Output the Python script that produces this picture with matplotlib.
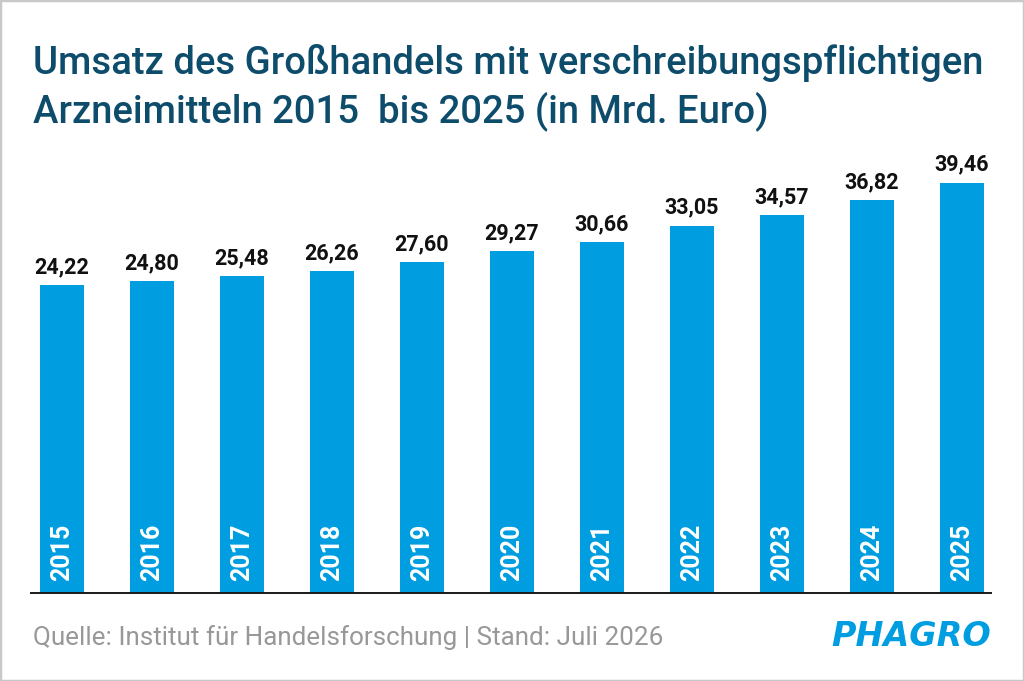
import numpy as np
import matplotlib
matplotlib.use("Agg")
from matplotlib import pyplot as plt
from matplotlib.patches import Rectangle

years = ["2015", "2016", "2017", "2018", "2019", "2020",
         "2021", "2022", "2023", "2024", "2025"]
umsatz = [24.22, 24.80, 25.48, 26.26, 27.60, 29.27,
          30.66, 33.05, 34.57, 36.82, 39.46]
value_labels = ["24,22", "24,80", "25,48", "26,26", "27,60", "29,27",
                "30,66", "33,05", "34,57", "36,82", "39,46"]

title_line1 = "Umsatz des Großhandels mit verschreibungspflichtigen"
title_line2 = "Arzneimitteln 2015  bis 2025 (in Mrd. Euro)"
source = "Quelle: Institut für Handelsforschung | Stand: Juli 2026"

BLUE = "#009EE0"
TITLE_BLUE = "#0E4C6B"
GREY = "#989898"

plt.rcParams['font.family'] = ['Roboto', 'DejaVu Sans']

W, H = 1024, 681
fig = plt.figure(figsize=(W / 100, H / 100), dpi=100)

# axis does not start at zero in the original, bars grow from an offset base
ybase = -21.7
px_per_unit = 6.71
ax_bottom_px = 593
ax_top_px = 150
ax = fig.add_axes([31 / W, (H - ax_bottom_px) / H,
                   960 / W, (ax_bottom_px - ax_top_px) / H])
ytop = ybase + (ax_bottom_px - ax_top_px) / px_per_unit

x = np.arange(len(years))
heights = np.array(umsatz) - ybase
ax.bar(x, heights, bottom=ybase, width=0.49, color=BLUE)
ax.set_xlim(-0.344, len(years) - 1 + 0.322)
ax.set_ylim(ybase, ytop)

for xi, v, lab, yr in zip(x, umsatz, value_labels, years):
    ax.annotate(lab, (xi, v), xytext=(0, 8.5), textcoords="offset points",
                ha="center", va="baseline", fontsize=15.5, fontweight="bold",
                color="#111111")
    ax.annotate(yr, (xi, ybase), xytext=(0, 8.5), textcoords="offset points",
                ha="center", va="bottom", rotation=90, fontsize=18,
                fontweight="bold", color="white")

for s in ["top", "left", "right"]:
    ax.spines[s].set_visible(False)
ax.spines["bottom"].set_linewidth(1.4)
ax.spines["bottom"].set_color("#1a1a1a")
ax.set_xticks([])
ax.set_yticks([])

fig.text(33 / W, 1 - 74 / H, title_line1, fontsize=27.5, color=TITLE_BLUE,
         va="baseline", ha="left", fontweight="medium")
fig.text(33 / W, 1 - 122 / H, title_line2, fontsize=27.5, color=TITLE_BLUE,
         va="baseline", ha="left", fontweight="medium")

fig.text(33 / W, 1 - 645 / H, source, fontsize=18.7, color=GREY,
         va="baseline", ha="left")
fig.text(991 / W, 1 - 646 / H, "PHAGRO", fontsize=24, color=BLUE,
         family="DejaVu Sans", fontweight="bold", style="italic",
         va="baseline", ha="right")

fig.patches.append(Rectangle((0, 0), 1, 1, transform=fig.transFigure,
                             fill=False, edgecolor="#C8C8C8", linewidth=2.5))

fig.savefig("out.png", dpi=100)
